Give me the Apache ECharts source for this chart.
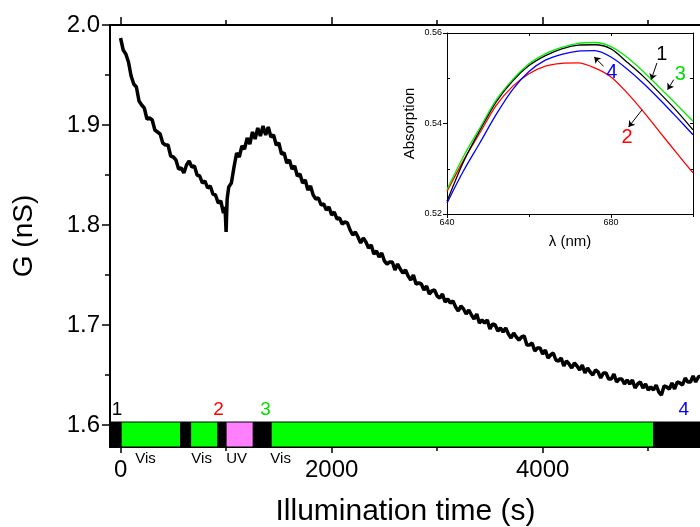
<!DOCTYPE html>
<html>
<head>
<meta charset="utf-8">
<script src="https://cdn.jsdelivr.net/npm/echarts@6/dist/echarts.min.js"></script>
<style>html,body{margin:0;padding:0;background:#fff}#c{width:700px;height:527px}</style>
</head>
<body>
<div id="c"></div>
<script>
// ---- main trace: conductance vs illumination time ----
const tSec = [0,25,50,75,100,125,150,175,200,225,250,275,300,325,350,375,400,425,450,475,500,525,550,575,600,625,650,675,700,725,750,775,800,825,850,875,900,925,950,975,990,1000,1010,
1025,1050,1075,1100,1125,1150,1175,1200,1225,1250,1275,1300,1325,1350,1375,1400,1425,1450,1475,1500,1525,1550,1575,1600,1625,1650,1675,1700,1725,1750,1775,1800,1825,1850,1875,1900,1925,1950,1975,2000,
2025,2050,2075,2100,2125,2150,2175,2200,2225,2250,2275,2300,2325,2350,2375,2400,2425,2450,2475,2500,2525,2550,2575,2600,2625,2650,2675,2700,2725,2750,2775,2800,2825,2850,2875,2900,2925,2950,2975,3000,
3025,3050,3075,3100,3125,3150,3175,3200,3225,3250,3275,3300,3325,3350,3375,3400,3425,3450,3475,3500,3525,3550,3575,3600,3625,3650,3675,3700,3725,3750,3775,3800,3825,3850,3875,3900,3925,3950,3975,4000,
4025,4050,4075,4100,4125,4150,4175,4200,4225,4250,4275,4300,4325,4350,4375,4400,4425,4450,4475,4500,4525,4550,4575,4600,4625,4650,4675,4700,4725,4750,4775,4800,4825,4850,4875,4900,4925,4950,4975,5000,
5025,5050,5075,5100,5125,5150,5175,5200,5225,5250,5275,5300,5325,5350,5375,5400,5425,5450,5475,5500];
const gNS = [1.987,1.975,1.971,1.963,1.949,1.941,1.938,1.924,1.920,1.917,1.906,1.907,1.905,1.895,1.893,1.891,1.882,1.880,1.880,1.869,1.868,1.865,1.856,1.857,1.852,1.860,1.864,1.858,1.859,1.850,1.849,1.842,1.844,1.837,1.839,1.831,1.830,1.822,1.824,1.812,1.818,1.793,1.826,
1.838,1.842,1.858,1.872,1.868,1.879,1.876,1.887,1.881,1.893,1.886,1.897,1.889,1.899,1.890,1.898,1.888,1.890,1.880,1.882,1.871,1.872,1.862,1.865,1.856,1.859,1.849,1.851,1.842,1.845,1.835,1.839,1.830,1.826,1.827,1.820,1.821,1.815,1.818,1.810,
1.813,1.806,1.807,1.801,1.803,1.802,1.795,1.790,1.793,1.788,1.782,1.787,1.783,1.777,1.780,1.771,1.774,1.768,1.772,1.764,1.761,1.763,1.763,1.755,1.761,1.756,1.752,1.755,1.749,1.745,1.750,1.741,1.742,1.741,1.735,1.739,1.731,1.734,1.735,1.729,
1.727,1.731,1.723,1.726,1.722,1.724,1.718,1.714,1.719,1.716,1.711,1.715,1.710,1.706,1.711,1.702,1.705,1.702,1.705,1.696,1.701,1.700,1.694,1.697,1.693,1.697,1.691,1.687,1.692,1.688,1.685,1.688,1.689,1.680,1.680,1.682,1.674,1.677,1.677,1.671,
1.675,1.667,1.670,1.672,1.665,1.664,1.667,1.659,1.664,1.661,1.657,1.662,1.659,1.655,1.660,1.652,1.657,1.653,1.650,1.655,1.653,1.647,1.652,1.652,1.646,1.646,1.651,1.643,1.646,1.646,1.641,1.645,1.641,1.645,1.637,1.641,1.643,1.637,1.641,1.635,
1.638,1.635,1.640,1.633,1.630,1.639,1.638,1.636,1.642,1.636,1.643,1.642,1.640,1.647,1.643,1.643,1.649,1.643,1.648,1.649];

// ---- illumination bar segments ----
const segStart = [-100, 6, 569, 664, 923, 1000, 1258, 1427, 5052];
const segEnd   = [6, 569, 664, 923, 1000, 1258, 1427, 5052, 5500];
const segKind  = ['dark','vis','dark','vis','dark','uv','dark','vis','dark'];
const phaseText = ['Vis','Vis','UV','Vis'];
const phaseX    = [237, 768, 1100, 1517];
const stateText = ['1','2','3','4'];
const stateX    = [-33, 929, 1374, 5336];
const stateG    = [1.615, 1.615, 1.615, 1.615];

// ---- main axis ticks ----
const xMajor = [0, 2000, 4000];
const xMinor = [1000, 3000, 5000];
const yMajor = [1.6, 1.7, 1.8, 1.9, 2.0];
const yMinor = [1.65, 1.75, 1.85, 1.95];

// ---- inset: absorption spectra ----
const nm = [640,644,648,652,656,660,664,668,672,676,680,684,688,692,696,700];
const abs1 = [0.5228,0.5315,0.5385,0.5448,0.5494,0.5528,0.5550,0.5565,0.5573,0.5574,0.5565,0.5535,0.5503,0.5466,0.5428,0.5386];
const abs2 = [0.5250,0.5318,0.5379,0.5440,0.5482,0.5510,0.5527,0.5533,0.5534,0.5523,0.5503,0.5467,0.5425,0.5380,0.5335,0.5291];
const abs3 = [0.5254,0.5327,0.5390,0.5452,0.5497,0.5532,0.5554,0.5568,0.5577,0.5579,0.5570,0.5546,0.5514,0.5478,0.5442,0.5405];
const abs4 = [0.5224,0.5295,0.5357,0.5420,0.5475,0.5515,0.5540,0.5553,0.5560,0.5561,0.5547,0.5520,0.5488,0.5452,0.5414,0.5375];
const inXMajor = [640, 680];
const inXMinor = [660, 700];
const inYMajor = [0.52, 0.54, 0.56];
const inYMinor = [0.53, 0.55];
// inset labels and arrows (data coords)
const inLabelText = ['1','2','3','4'];
const inLabelNm   = [692.4, 683.9, 696.9, 680.2];
const inLabelAbs  = [0.5552, 0.5368, 0.5508, 0.5512];
const arrowFrom = [[691.2,0.55337],[687.6,0.54306],[695.3,0.54969],[678.2,0.55263]];
const arrowTo   = [[689.8,0.54969],[684.3,0.53923],[693.8,0.54748],[675.9,0.55470]];

const FONT = '"Liberation Sans", Arial, sans-serif';
const segColors = {dark:'#000000', vis:'#00ff00', uv:'#ff80ff'};
const numColors = ['#000000','#ff0000','#00dd00','#0000ff'];

const chart = echarts.init(document.getElementById('c'), null, {renderer:'canvas'});

function tickAxis(base){ return Object.assign({type:'value', splitLine:{show:false}, axisLabel:{show:false}}, base); }

const option = {
  animation:false,
  backgroundColor:'#fff',
  textStyle:{fontFamily:FONT},
  grid:[
    {left:110, top:25, width:591, height:422, containLabel:false, outerBoundsMode:'none'},
    {left:447, top:33, width:246, height:181, containLabel:false, outerBoundsMode:'none'}
  ],
  xAxis:[
    tickAxis({gridIndex:0, position:'bottom', min:-100, max:5500,
      axisLine:{show:true, onZero:false, lineStyle:{color:'#000', width:2}},
      axisTick:{show:true, customValues:xMajor, length:6, lineStyle:{color:'#000', width:1.5}},
      axisLabel:{show:true, customValues:xMajor, fontSize:24, color:'#000', margin:11, fontFamily:FONT,
        formatter:v=>String(v)},
      name:'Illumination time (s)', nameLocation:'middle', nameGap:50,
      nameTextStyle:{fontSize:30, color:'#000', fontFamily:FONT}}),
    tickAxis({gridIndex:0, position:'bottom', min:-100, max:5500,
      axisLine:{show:false, onZero:false},
      axisTick:{show:true, customValues:xMinor, length:4, lineStyle:{color:'#000', width:1.5}}}),
    tickAxis({gridIndex:0, position:'top', min:-100, max:5500,
      axisLine:{show:true, onZero:false, lineStyle:{color:'#000', width:2}},
      axisTick:{show:true, customValues:xMajor, length:8, lineStyle:{color:'#000', width:1.5}}}),
    tickAxis({gridIndex:0, position:'top', min:-100, max:5500,
      axisLine:{show:false, onZero:false},
      axisTick:{show:true, customValues:xMinor, length:5, lineStyle:{color:'#000', width:1.5}}}),
    tickAxis({gridIndex:1, position:'bottom', min:640, max:700,
      axisLine:{show:true, onZero:false, lineStyle:{color:'#000', width:1}},
      axisTick:{show:true, customValues:inXMajor, length:4, lineStyle:{color:'#000', width:1}},
      axisLabel:{show:true, customValues:inXMajor, fontSize:9, color:'#000', margin:4, fontFamily:FONT,
        formatter:v=>String(v)},
      name:'λ (nm)', nameLocation:'middle', nameGap:20,
      nameTextStyle:{fontSize:15, color:'#000', fontFamily:FONT}}),
    tickAxis({gridIndex:1, position:'bottom', min:640, max:700,
      axisLine:{show:false, onZero:false},
      axisTick:{show:true, customValues:inXMinor, length:3, lineStyle:{color:'#000', width:1}}}),
    tickAxis({gridIndex:1, position:'top', min:640, max:700,
      axisLine:{show:true, onZero:false, lineStyle:{color:'#000', width:1}},
      axisTick:{show:true, inside:true, customValues:inXMinor.concat(inXMajor), length:3, lineStyle:{color:'#000', width:1}}})
  ],
  yAxis:[
    tickAxis({gridIndex:0, position:'left', min:1.578, max:2.0,
      axisLine:{show:true, onZero:false, lineStyle:{color:'#000', width:2}},
      axisTick:{show:true, customValues:yMajor, length:8, lineStyle:{color:'#000', width:1.5}},
      axisLabel:{show:true, customValues:yMajor, fontSize:24, color:'#000', margin:10, fontFamily:FONT,
        formatter:v=>Number(v).toFixed(1)},
      name:'G (nS)', nameLocation:'middle', nameGap:72,
      nameTextStyle:{fontSize:28, color:'#000', fontFamily:FONT}}),
    tickAxis({gridIndex:0, position:'left', min:1.578, max:2.0,
      axisLine:{show:false, onZero:false},
      axisTick:{show:true, customValues:yMinor, length:5, lineStyle:{color:'#000', width:1.5}}}),
    tickAxis({gridIndex:1, position:'left', min:0.52, max:0.56,
      axisLine:{show:true, onZero:false, lineStyle:{color:'#000', width:1}},
      axisTick:{show:true, customValues:inYMajor, length:4, lineStyle:{color:'#000', width:1}},
      axisLabel:{show:true, customValues:inYMajor, fontSize:9, color:'#000', margin:5, fontFamily:FONT,
        formatter:v=>Number(v).toFixed(2)},
      name:'Absorption', nameLocation:'middle', nameGap:30,
      nameTextStyle:{fontSize:15, color:'#000', fontFamily:FONT}}),
    tickAxis({gridIndex:1, position:'left', min:0.52, max:0.56,
      axisLine:{show:false, onZero:false},
      axisTick:{show:true, inside:true, customValues:inYMinor, length:3, lineStyle:{color:'#000', width:1}}}),
    tickAxis({gridIndex:1, position:'right', min:0.52, max:0.56,
      axisLine:{show:true, onZero:false, lineStyle:{color:'#000', width:1}},
      axisTick:{show:true, inside:true, customValues:inYMinor.concat(inYMajor), length:3, lineStyle:{color:'#000', width:1}}})
  ],
  series:[
    {type:'line', xAxisIndex:0, yAxisIndex:0, showSymbol:false, symbol:'none',
      data:tSec.map((t,i)=>[t,gNS[i]]),
      lineStyle:{color:'#000', width:3.5}, z:3},
    {type:'custom', xAxisIndex:0, yAxisIndex:0, z:4,
      data:segStart.map((s,i)=>[s,segEnd[i]]),
      renderItem:(params, api)=>{
        const p0 = api.coord([api.value(0), 1.603]);
        const p1 = api.coord([api.value(1), 1.578]);
        return {type:'rect', shape:{x:p0[0], y:p0[1], width:p1[0]-p0[0], height:p1[1]-p0[1]},
          style:{fill:segColors[segKind[params.dataIndex]], stroke:'#000', lineWidth:1}};
      }},
    {type:'custom', xAxisIndex:0, yAxisIndex:0, z:5, clip:false,
      data:phaseX.map(x=>[x, 1.578]),
      renderItem:(params, api)=>{
        const p = api.coord([api.value(0), api.value(1)]);
        return {type:'text', x:p[0], y:p[1]+4,
          style:{text:phaseText[params.dataIndex], fill:'#000', fontSize:15, fontFamily:FONT,
            align:'center', verticalAlign:'top'}};
      }},
    {type:'custom', xAxisIndex:0, yAxisIndex:0, z:5, clip:false,
      data:stateX.map((x,i)=>[x, stateG[i]]),
      renderItem:(params, api)=>{
        const p = api.coord([api.value(0), api.value(1)]);
        return {type:'text', x:p[0], y:p[1],
          style:{text:stateText[params.dataIndex], fill:numColors[params.dataIndex], fontSize:19, fontFamily:FONT,
            align:'center', verticalAlign:'middle'}};
      }},
    {type:'line', xAxisIndex:4, yAxisIndex:2, showSymbol:false, symbol:'none', smooth:0.3,
      data:nm.map((w,i)=>[w,abs2[i]]), lineStyle:{color:'#ff0000', width:1.3}},
    {type:'line', xAxisIndex:4, yAxisIndex:2, showSymbol:false, symbol:'none', smooth:0.3,
      data:nm.map((w,i)=>[w,abs4[i]]), lineStyle:{color:'#0000ff', width:1.3}},
    {type:'line', xAxisIndex:4, yAxisIndex:2, showSymbol:false, symbol:'none', smooth:0.3,
      data:nm.map((w,i)=>[w,abs1[i]]), lineStyle:{color:'#000000', width:1.3}},
    {type:'line', xAxisIndex:4, yAxisIndex:2, showSymbol:false, symbol:'none', smooth:0.3,
      data:nm.map((w,i)=>[w,abs3[i]]), lineStyle:{color:'#00ee00', width:1.3},
      markLine:{silent:true, symbol:['none','arrow'], symbolSize:6, animation:false,
        label:{show:false}, lineStyle:{color:'#000', width:1, type:'solid'},
        data:arrowFrom.map((f,i)=>[{coord:f},{coord:arrowTo[i]}])}},
    {type:'custom', xAxisIndex:4, yAxisIndex:2, z:6, clip:false,
      data:inLabelNm.map((w,i)=>[w, inLabelAbs[i]]),
      renderItem:(params, api)=>{
        const p = api.coord([api.value(0), api.value(1)]);
        return {type:'text', x:p[0], y:p[1],
          style:{text:inLabelText[params.dataIndex], fill:numColors[params.dataIndex], fontSize:20, fontFamily:FONT,
            align:'center', verticalAlign:'middle'}};
      }}
  ]
};
chart.setOption(option);
</script>
</body>
</html>
